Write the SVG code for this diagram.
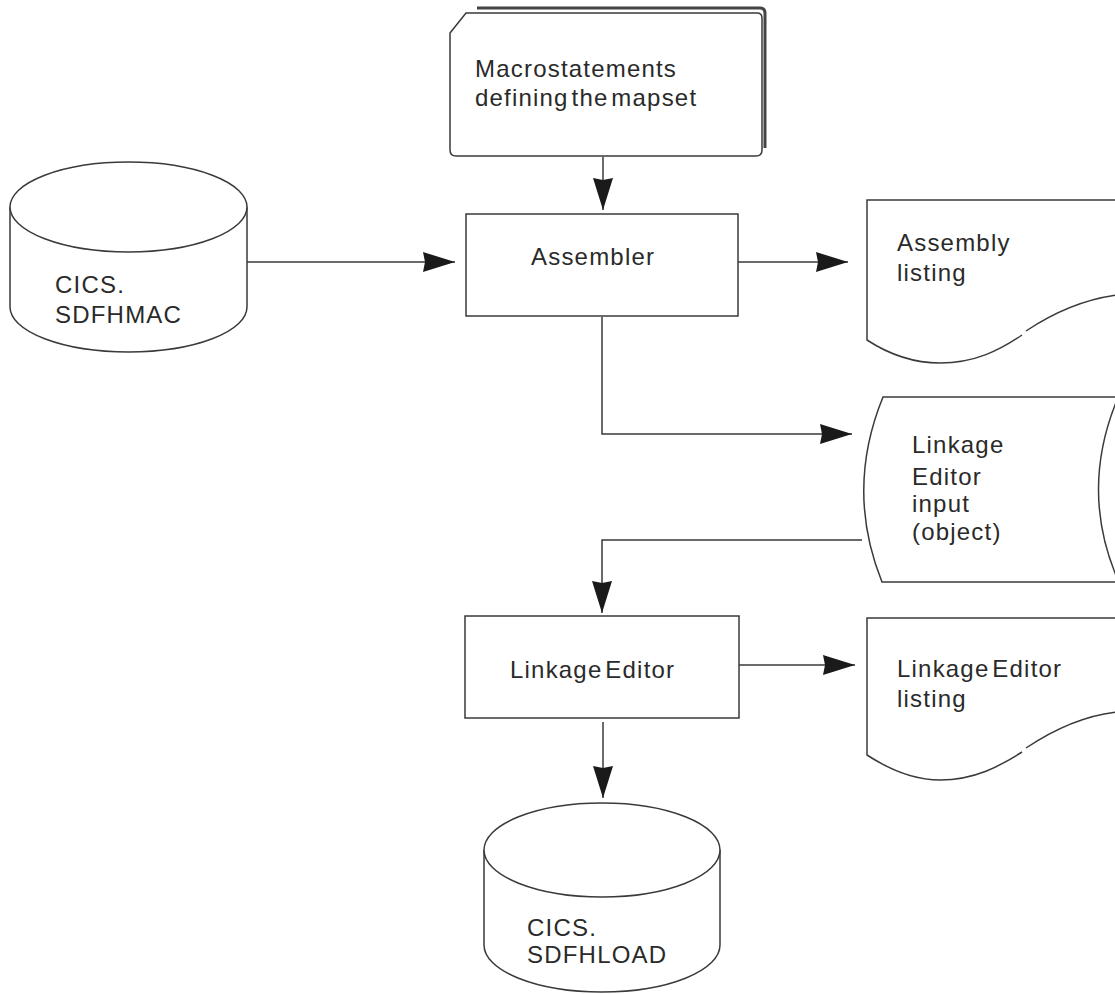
<svg xmlns="http://www.w3.org/2000/svg" width="1115" height="994" viewBox="0 0 1115 994">
<style>
.s{fill:#fff;stroke:#3a3a3a;stroke-width:1.5}
.l{fill:none;stroke:#3a3a3a;stroke-width:1.5}
.sh{fill:none;stroke:#444;stroke-width:3}
.t{font-family:"Liberation Sans",Arial,sans-serif;font-size:24px;fill:#2a2a2a;letter-spacing:1.2px}
</style>
<defs>
<marker id="ah" markerWidth="32" markerHeight="20" refX="32" refY="10" orient="auto" markerUnits="userSpaceOnUse">
<path d="M0,0 L32,10 L0,20 L2,10 Z" fill="#1a1a1a"/>
</marker>
</defs>
<rect width="1115" height="994" fill="#fff"/>
<g id="connectors">
<line class="l" x1="603" y1="157" x2="603" y2="210" marker-end="url(#ah)"/>
<line class="l" x1="247" y1="262" x2="455" y2="262" marker-end="url(#ah)"/>
<line class="l" x1="738" y1="262" x2="848" y2="262" marker-end="url(#ah)"/>
<polyline class="l" points="602,317 602,434 852,434" marker-end="url(#ah)"/>
<polyline class="l" points="862,540 602,540 602,613" marker-end="url(#ah)"/>
<line class="l" x1="739" y1="665" x2="855" y2="665" marker-end="url(#ah)"/>
<line class="l" x1="603" y1="722" x2="603" y2="798" marker-end="url(#ah)"/>
</g>
<g id="macro">
<path class="sh" d="M477,8 L760,8 Q765,8 765,13 L765,148"/>
<path class="s" d="M450,33 L466,13 L757,13 Q762,13 762,18 L762,150 Q762,156 756,156 L456,156 Q450,156 450,150 Z"/>
<text class="t" x="475" y="77">Macrostatements</text>
<text class="t" x="475" y="106" word-spacing="-5">defining the mapset</text>
</g>
<g id="sdfhmac">
<path class="s" d="M10,207 L10,307 A118.5,45 0 0 0 247,307 L247,207"/>
<ellipse class="s" cx="128.5" cy="207" rx="118.5" ry="45"/>
<text class="t" x="55" y="293">CICS.</text>
<text class="t" x="55" y="323">SDFHMAC</text>
</g>
<g id="assembler">
<rect class="s" x="466" y="214" width="272" height="102"/>
<text class="t" x="531" y="265">Assembler</text>
</g>
<g id="assembly-listing">
<path class="l" d="M1117,200 L867,200 L867,340 C890,355 915,363 940,363 C975,363 1000,350 1022,335"/>
<path class="l" d="M1026,331 C1050,315 1080,300 1117,295"/>
<text class="t" x="897" y="251">Assembly</text>
<text class="t" x="897" y="281">listing</text>
</g>
<g id="le-input">
<path class="l" d="M1117,397 L883,397 Q845,490 882,582 L1117,582"/>
<path class="l" d="M1117,400 Q1080,490 1117,578"/>
<text class="t" x="912" y="453">Linkage</text>
<text class="t" x="912" y="485">Editor</text>
<text class="t" x="912" y="512">input</text>
<text class="t" x="912" y="540">(object)</text>
</g>
<g id="linkage-editor">
<rect class="s" x="465" y="616" width="274" height="102"/>
<text class="t" x="510" y="678" word-spacing="-5">Linkage Editor</text>
</g>
<g id="le-listing">
<path class="l" d="M1117,618 L867,618 L867,755 C890,770 915,780 940,780 C975,780 1000,766 1022,752"/>
<path class="l" d="M1026,748 C1050,732 1080,716 1117,712"/>
<text class="t" x="897" y="677" word-spacing="-5">Linkage Editor</text>
<text class="t" x="897" y="707">listing</text>
</g>
<g id="sdfhload">
<path class="s" d="M484,850 L484,945 A118,47 0 0 0 720,945 L720,850"/>
<ellipse class="s" cx="602" cy="850" rx="118" ry="47"/>
<text class="t" x="527" y="936">CICS.</text>
<text class="t" x="527" y="963">SDFHLOAD</text>
</g>
</svg>
